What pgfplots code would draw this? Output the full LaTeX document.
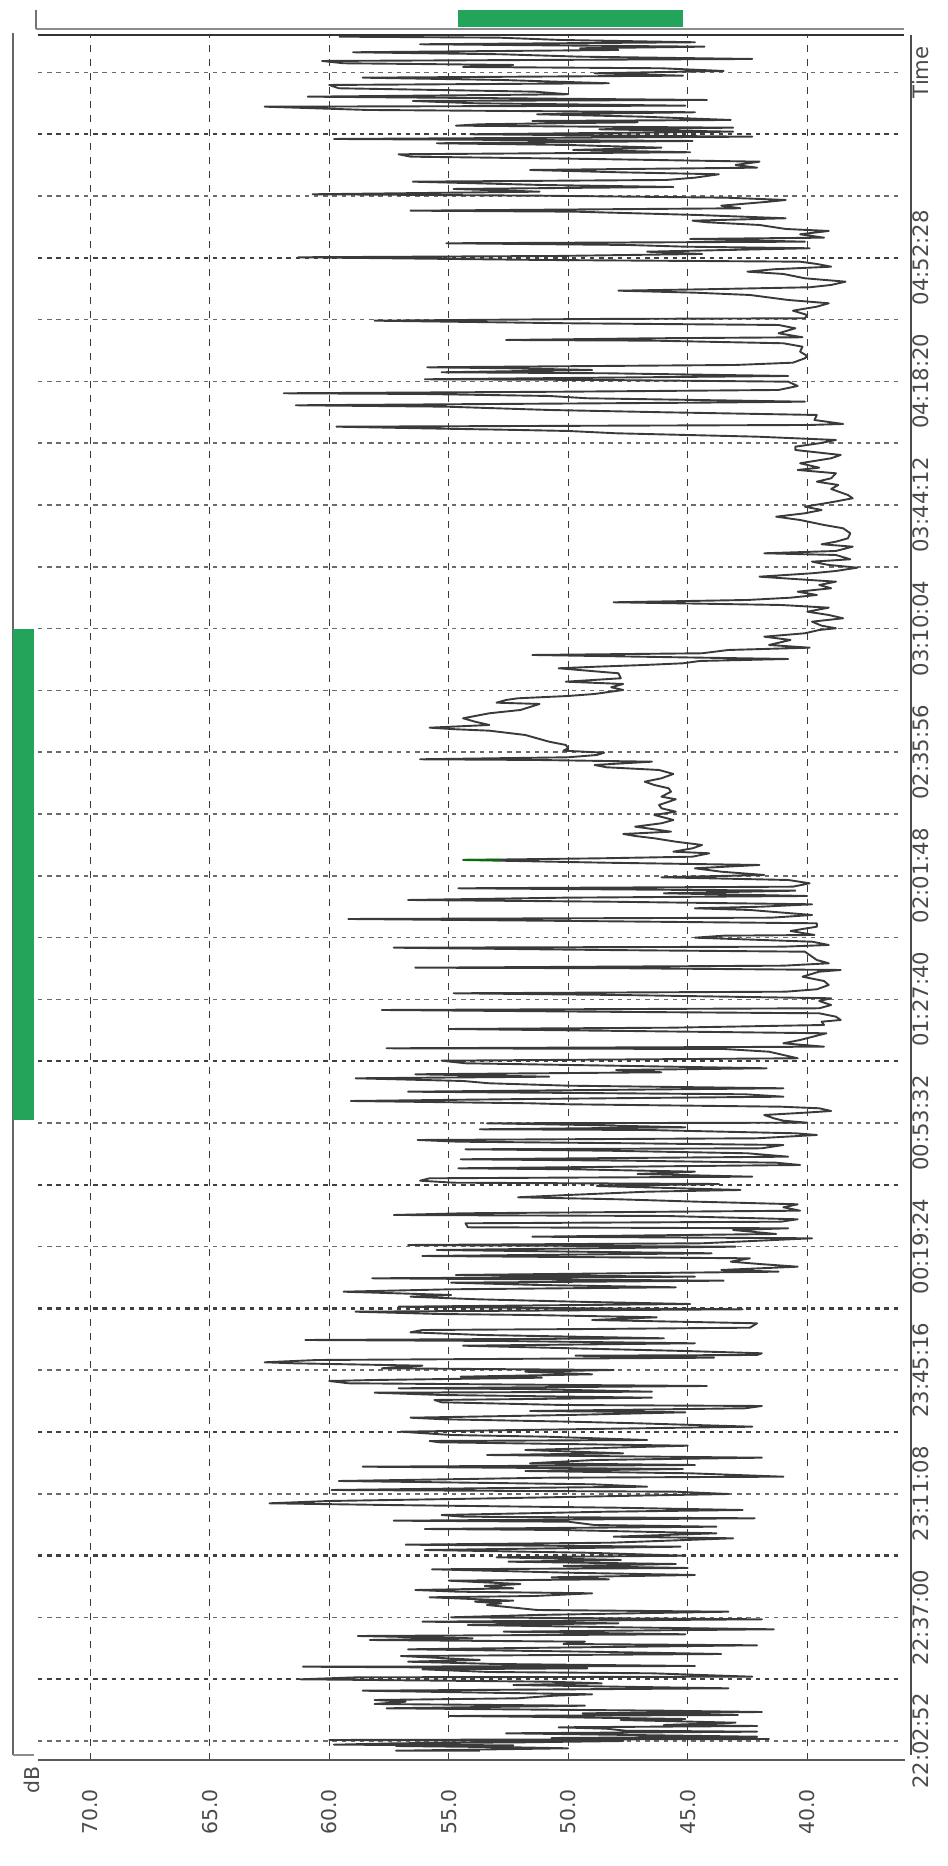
\documentclass[border=0pt]{standalone}
\usepackage{pgfplots}
\pgfplotsset{compat=1.18}
\usepackage{fontspec}
\setmainfont{DejaVu Sans}
\definecolor{gr}{HTML}{22A55B}
\definecolor{ink}{HTML}{3A3A3A}
\definecolor{lab}{HTML}{4A4A4A}
\begin{document}
\begin{tikzpicture}
\path[use as bounding box] (0,0) rectangle (473.5pt,933pt);
\begin{axis}[
  at={(6.5pt,53pt)},anchor=south west,
  scale only axis,width=449pt,height=862.5pt,
  x dir=reverse,xmin=35.66,xmax=73.23,ymin=-19,ymax=1706,
  clip=false,axis line style={draw=none},
  xtick={70,65,60,55,50,45,40},
  xticklabels={70.0,65.0,60.0,55.0,50.0,45.0,40.0},
  ytick={0,123.6,247.2,370.8,494.4,618,741.6,865.2,988.8,1112.4,1236,1359.6,1483.2,1668.6},
  yticklabels={22:02:52,22:37:00,23:11:08,23:45:16,00:19:24,00:53:32,01:27:40,02:01:48,02:35:56,03:10:04,03:44:12,04:18:20,04:52:28,Time},
  yticklabel pos=right,
  xticklabel style={rotate=90,anchor=east,xshift=-11pt,font=\fontsize{10.2}{12}\selectfont,text=lab},
  yticklabel style={rotate=90,anchor=center,yshift=-5pt,font=\fontsize{10.6}{12}\selectfont,text=lab},
  major tick length=0pt,
  xmajorgrids,
  x grid style={draw=ink,line width=0.6pt,dash pattern=on 3.6pt off 3.4pt},
]
% horizontal dotted lines, light
\pgfplotsinvokeforeach{0,123.6,247.2,370.8,494.4,618,741.6,803.4,865.2,927,988.8,1050.6,1112.4,1174.2,1236,1297.8,1359.6,1421.4,1545,1668.6}{
  \addplot[forget plot,draw=black!58,line width=0.75pt,dash pattern=on 2.2pt off 2.4pt] coordinates {(72.18,#1)(36.1,#1)};
}
% horizontal dotted lines, heavy
\pgfplotsinvokeforeach{61.8,185.4,309,432.6,556.2,679.8,1483.2,1606.8}{
  \addplot[forget plot,draw=black!75,line width=1.2pt,dash pattern=on 2.2pt off 2.4pt] coordinates {(72.18,#1)(36.1,#1)};
}
% frame lines
\addplot[forget plot,draw=black!65,line width=1.1pt] coordinates {(72.2,-19)(35.9,-19)};
\addplot[forget plot,draw=black!80,line width=1pt] coordinates {(72.2,1706)(35.95,1706)};
\addplot[forget plot,draw=black!45,line width=1.3pt] coordinates {(72.26,1712)(35.95,1712)};
\addplot[forget plot,draw=black!55,line width=0.7pt] coordinates {(72.26,1731)(72.26,1712)};
\addplot[forget plot,draw=black!60,line width=0.8pt] coordinates {(73.23,1708)(73.23,-14)};
\addplot[forget plot,draw=black!70,line width=0.8pt] coordinates {(35.66,1706)(35.66,-14)};
\addplot[forget plot,draw=black!45,line width=1.4pt] coordinates {(73.23,-14)(72.35,-14)};
% green bars
\addplot[forget plot,fill=gr,draw=none] coordinates {(73.23,1112)(72.35,1112)(72.35,621)(73.23,621)} --cycle;
\addplot[forget plot,fill=gr,draw=none] coordinates {(54.61,1731)(45.2,1731)(45.2,1714)(54.61,1714)} --cycle;
% series
\addplot[ink,line width=0.95pt,line join=round] coordinates {
(53.7,-9.7)(57.2,-9.7)(50,-7.3)(52.3,-6.3)(57.2,-5)(52.3,-4.3)(59.8,-3.7)(57.2,-2.3)(51.8,-1.3)(47.7,0)(60,1)(41.6,2)(50.7,3)(42.1,4.3)(52.6,7.7)(42.1,9.3)(47.6,10.3)(48.4,12.3)(50.4,13.7)(42.1,15)(46,16)(43,18.3)(47.8,21)(45.1,22)(51.8,24.3)(55,25)(42.9,26)(49.4,27.7)(41.9,29)(46,30.3)
(57.6,32.7)(49.3,35.3)(58.1,37)(56.8,39.3)(58.1,41)(52.1,42.7)(50.6,45.3)(49,46.7)(53.4,48.3)(58.6,50.3)(43.3,52.7)(47.9,54.3)(52.3,56)(48.6,57.7)(50.8,59.3)(61.2,61.7)(58.8,63.7)(42.3,64.3)(46.5,67.7)(53.3,69)(56.1,71.7)(49.2,72.7)(61.1,74.3)(44.7,75)(53,77)(56.7,79.3)(53.7,81)(55.1,82.7)(57,85)(43.6,87)(49.1,89.3)(56.7,91.7)(47.2,94.3)(42.1,95.7)(50.2,97)(49.3,99.3)(58.3,101)(54,102.7)(58.8,105)(45.1,106.7)(52.7,109.3)(41.4,111.7)(47.8,113.7)(54.2,116)(47.9,117.7)(56.1,119.3)(41.9,121.7)(54.9,123.7)(51.4,126)(43.3,129.3)(51.3,131)(52,132.7)(53.4,136)(52.8,137.7)(53.9,139.3)(52.3,140.3)(55.8,143.7)(51.4,145)(49,147.7)(54.6,149.3)(56.4,151)(52.3,152.7)(53.5,155)(52,157)(55,160.3)(48.3,161.7)(50.7,163.7)(44.7,166)(50,168.3)(55.7,171.7)(45,173)(50.2,175)(45.5,177)(52.5,179.3)(47.8,181)(53,183.7)(45.1,185.3)(49.3,188.3)(56,191)(45.3,194.3)(56.8,196.3)(48.2,198.3)
(43.1,202.7)(48.1,204.3)(43.8,207.7)(50.3,211)(56,212)(43.8,214.3)(48.9,216)(50,219.3)(57.3,220.3)(42.2,222.7)(54.4,224.3)(55.3,226)(48.4,229.3)(42.7,231)(48,233.3)(57.6,236)(62.5,237.7)(60,240)(53,242.7)(47.9,245)(43.3,247)(45.5,249.3)(59.9,251)(53.8,252.7)(46.7,254.3)(49,256.7)(55.4,258.7)(59.6,260)(50.8,263.3)(41,264.3)(44.9,267.7)(51.8,270)(45.2,272)(58.6,274.3)(44.7,276)(51.6,277.7)(48.9,281)(41.9,283.3)(53.4,286)(47.7,287.7)(51.8,291)(45,295.3)(55.4,298.7)(55.8,300)(46.7,301)(50.9,304.3)(54.9,306)(57,309.3)(42.3,314.3)(47.1,317.7)(49.9,319.3)(55.2,321.7)(56.6,323.3)(50,326)(45.1,328.7)(51.6,330)(42.6,332.7)(41.9,335)(50.2,336)(55.3,338.7)(55.6,341)(46.5,343.3)(55.3,346)(58.1,348.3)(46.5,349.3)(51.8,352)(57.1,352.7)(44.2,355)(59.2,357.7)(60,360)(58.1,361)(51.1,363.3)(54.5,364.3)(49,366.7)(51.8,369.3)(48.1,371)(57.8,372.7)(56.1,375.3)(61.5,377.7)(62.7,378.7)(60.5,381)(43.9,383.3)(49.7,385.3)(42.1,386)(41.9,387.7)(45.1,390)(49.9,392.7)(54.4,395.3)(44.7,397.7)(52.8,400)(61,401)(46,402.7)(53.6,406)(56.6,408.7)(56.1,411)(49,412)(42.4,413.3)
(42.1,417.7)(49,421)(46.3,423.7)(51.6,426)(55.4,427)(58.9,429.3)(42.7,431.7)(51.3,433)(57.1,434.3)(44.9,437)(49.7,439.3)(53.8,441.7)(56.6,444.3)(54.9,446)(59.4,449.3)(54.9,451.7)(45.5,453.7)(51.2,456)(54.9,458.3)(43.5,460.3)(58.2,462.7)(44.7,464.3)(54.7,466)(41.2,469.3)(43.6,471)(40.4,474.3)(42,477)(43.2,479.3)(42.4,482.7)(56.1,485)(44,487.7)(55.5,491)(43,494.3)(56.7,496)(44.4,497.7)(39.8,502.7)(51.5,504.3)(41.3,507)(43.1,511)(40.8,512.7)(54.2,513.7)(54.3,517.7)(41.1,519.3)(40.4,521.7)(45.9,525)(57.3,526)(54.4,527.7)(40.3,530.3)(41,533.7)(40.4,536.7)(44.6,539.3)(47.9,541.7)(52.1,543.7)(50,546)(46.7,549.3)(42.8,551)(48.8,555)(43.7,557)(54.8,558.3)(56.2,560.3)(55.8,562.7)(42.3,564.3)(47.1,567)(44.7,569.3)(49.8,571.7)(54.6,572.7)(40.3,576)(41.3,578.3)(47.5,580.3)(54.5,581.7)(40.8,584.3)(42.5,587.7)(48.4,590.3)(54.3,591.7)(41.9,592.7)(41,596)(47.4,597.7)(54.6,599.3)(56.3,601)(42.1,602.7)(39.6,606)(40.5,607.7)(46.7,611)(53.7,611.7)(45.1,613.7)(49.3,616)(53.4,617.7)(40,618.3)(41,620.3)(41.4,622.7)(41.8,626)(40.1,628.3)(39,630)
(39.5,632.7)(41.1,634.3)(50,636.7)(51.6,637.7)(59.1,640)(51.6,642)(41,644.3)(42.6,646.7)(56.7,649.3)(48.8,651)(41,652.7)(50,655.3)(53.3,657.7)(54.4,660)(58.9,662.7)(50.8,664.3)(56.4,666.7)(46.1,668.7)(48,671)(41.7,672.7)(48.1,675.3)(54.3,677.7)(55.3,680.3)(40.4,682.7)(41,686)(41.6,689.3)(43.5,692)(57.6,692.7)(39.3,694.3)(41,697.7)(40.3,701)(39.6,705.3)(39.2,707.7)(47.5,710)(55,712)(45.7,713.3)(39.3,716)(39.4,719.3)(38.6,721)(38.8,724.3)(39.5,727.7)(48.9,729.3)(57.8,731)(39.5,732.7)(39,736)(39.5,740)(39,742.7)(47.9,746)(54.8,747.7)(40.9,749.3)(39.6,751.7)(39.1,756)(39.3,760)(40.2,764.3)(39.5,769.3)(38.6,771)(47.5,772.7)(56.4,773.3)(41,775.3)(39.1,777.7)(39.6,781)(40.1,789.3)(48.6,791)(57.3,793.3)(41,794.3)(39.1,796)(39.8,799.3)(44.7,803.3)(43.5,805.3)(39.7,806)(40.7,810)(39.6,814.3)(39.6,817.7)(49.7,820)(59.2,822)(41.5,823.3)(39.8,826)(42.4,831)(44.7,832.7)(41.9,834.3)(39.8,836.7)(48.3,839.3)(56.7,841)(50.2,843.3)(40,845)
(46,847.7)(40.5,850.3)(54.6,852.7)(40.6,854.3)(39.9,857.7)(40.8,861)(46.1,863.7)(41.8,866)(43.6,869.3)(44.7,872.7)(42,876)(48.5,878.3)(54.4,881)(48.6,882.7)(44.8,884.3)(44.1,887.7)(45.6,889.3)(44.8,892.7)(44.4,896)(45.5,899.3)(46.4,902.7)(47.2,905)(47.7,907)(45.7,909.3)(46.7,912.7)(47.2,914.3)(46.1,917.7)(45.6,921)(46.4,926)(45.5,929.3)(46.1,932.7)(46.2,936)(45.5,941.7)(46.1,944.3)(45.7,949.3)(45.8,952.7)(46.4,956)(46.8,959.3)(46.1,962.7)(45.6,967)(46.2,971)(48.4,973.7)(48.9,976)(46.5,979.3)(51.3,981)(56.2,981.7)(50,983.7)(48.8,986)(48.5,988.3)(50.2,990.3)(50,992.7)(50.1,996)(50.8,999.3)(51.8,1006)(53.3,1010.3)(54.7,1011.7)(55.8,1013.3)(53.3,1016)(53.9,1019.3)(54.4,1022.7)(53.3,1027.7)(52,1031)(51.2,1037)(53,1038.3)(52.6,1041)(52.1,1042.7)(50,1045)(48.9,1047)(47.7,1051)(48.2,1053.7)(47.7,1057)(50.1,1059.3)
(47.8,1062.7)(47.9,1067.7)(49.2,1070.3)(50.4,1072.7)(48.8,1074.3)(46.8,1076)(45.2,1077.7)(44.5,1080)(40.8,1082)(44.4,1083.3)(51.5,1086)(44.4,1087.7)(43.3,1091)(39.9,1093.3)(41.6,1096)(40.7,1101)(41.8,1104.3)(40.1,1107.7)(39.5,1111)(38.8,1112.7)(39.4,1115.3)(39.8,1119.3)(38.5,1122.7)(39.1,1126)(40,1129.3)(39.1,1133.3)(41.1,1136)(48.1,1138.7)(42.5,1141)(40.7,1143.3)(39.6,1146)(40.4,1149.3)(39,1152.7)(39.5,1156)(38.8,1159.3)(41,1162.7)(42,1164.3)(39.8,1167.7)(38.8,1170)(37.9,1173.3)(39.1,1176)(39.8,1179.3)(38.2,1181.7)(38.8,1186)(41.8,1187.7)(38.8,1190)(38.1,1194.3)(39.4,1196.7)(38.8,1199.3)(38.3,1202.7)(38.2,1207.7)(38.5,1212.7)(39.3,1216)(40.3,1221)(41.3,1224.3)(40.1,1227.7)(39.4,1231)(40.1,1234.3)(39,1238.7)(38.1,1242.7)(38.3,1246)(39,1252)(38.7,1256)(39.6,1259.3)(39,1262.7)(38.8,1267.7)(40.4,1271)(39.5,1273.3)
(40.3,1277.7)(39,1282.7)(38.6,1286)(40.5,1291)(40.5,1294.3)(39.5,1297.7)(38.8,1301)(42.1,1304.3)(48,1307.7)(50,1310)(52.1,1311)(56.2,1312.7)(59.7,1314.3)(39.9,1316)(38.5,1317)(39.7,1321)(39.6,1326)(46,1328.7)(50.8,1331)(55.1,1334.3)(61.4,1335.7)(44.6,1338.3)(40.1,1339.3)(49.2,1342.7)(50.8,1345)(56.1,1347)(61.9,1347.7)(50,1349.3)(41.2,1351)(40.4,1355)(40.8,1359.3)(48.7,1361)(56,1361.7)(40.8,1365)(48.4,1367.7)(55.3,1368.7)(49,1371)(52.5,1372.7)(55.9,1373.7)(43,1376)(40.6,1378.3)(40.1,1382.7)(40,1385)(40.3,1389.3)(40.2,1394.3)(41,1397.7)(46.4,1400.3)(52.6,1401)(46.4,1402.7)(40.2,1403.7)(41.2,1407.7)(40.5,1412.7)(41.2,1416)(50,1417.7)(58.1,1420.3)(49,1422)(40.1,1422.7)(40,1426)(40.6,1430.3)(39.6,1434.3)(39.1,1437.7)(40.8,1441)(42.4,1446)(44.7,1448.3)(47.9,1450.3)(44.3,1451.7)(39.9,1453.7)(39,1456)(38.4,1459.3)(40.1,1462.7)(41,1467)(42.5,1469.3)(41.4,1471.7)(39,1474.3)(39.6,1477)(40.3,1479.3)(51,1481)(61.3,1483.7)(50.5,1485)(44.4,1487)(46.7,1489.3)
(39.9,1492.7)(45.1,1494.3)(47.5,1496)(55.1,1497.7)(40.1,1499.3)(44.9,1502)(39.3,1503.3)(40.3,1506.7)(39.1,1510)(40.9,1512)(42,1516)(44.2,1518.7)(44.8,1520.3)(40.9,1522.7)(44.6,1526)(49.7,1529.3)(56.6,1530.3)(42.8,1532.7)(43.6,1535.3)(41.6,1539.3)(40.9,1541)(43.4,1543.3)(51.2,1545.3)(60.7,1546.7)(51.2,1549.3)(54.8,1552)(45.6,1554)(51.1,1556)(56.5,1559.3)(45.9,1561)(44.7,1563.3)(43.7,1566.7)(47.9,1568.7)(51.6,1571)(42.1,1573.3)(43,1576)(42,1579.3)(49,1582)(56.6,1584.3)(57.1,1586.7)(44.9,1588.7)(49.8,1591)(46.1,1593.3)(50,1596)(55.5,1597.7)(44.8,1600)(59.8,1602)(42.3,1604.3)(54.1,1606.7)(43.1,1609.3)(48.7,1611.7)(43.1,1613.3)(54.7,1615.3)(53.7,1616.7)(47.1,1618.7)(51.5,1620)(43.2,1621)(46.9,1624.3)(51.3,1626.7)(44.7,1628.7)(58.4,1631)(62.7,1634.3)(45.1,1635.3)(53.9,1637.7)(56.5,1640)(44.2,1641)(52.6,1642.7)(60.9,1644.3)(50,1646.7)(51.4,1649.3)(59.6,1652.7)(60,1656)(48.3,1657.7)(52.8,1661)(58.6,1663.3)(45.2,1665.3)(48.9,1667.7)(43.5,1670)(46.1,1672.7)(54.4,1674)(52.3,1676)(59.4,1677.7)(60.3,1680)(42.3,1682)(49.5,1684.3)(52.8,1686.7)(59,1688.7)(47.9,1691)(49.5,1692.7)(44.3,1694.3)(56.2,1696.7)(44.7,1698.7)(50.3,1701)(52.9,1703.3)(59.6,1704.3)
};
\addplot[forget plot,draw=green!45!black,line width=1pt] coordinates {(54.4,881)(52.8,881.2)};
\node[rotate=90,font=\fontsize{10.2}{12}\selectfont,text=lab] at (axis cs:72.44,-39) {dB};
\end{axis}
\end{tikzpicture}
\end{document}
